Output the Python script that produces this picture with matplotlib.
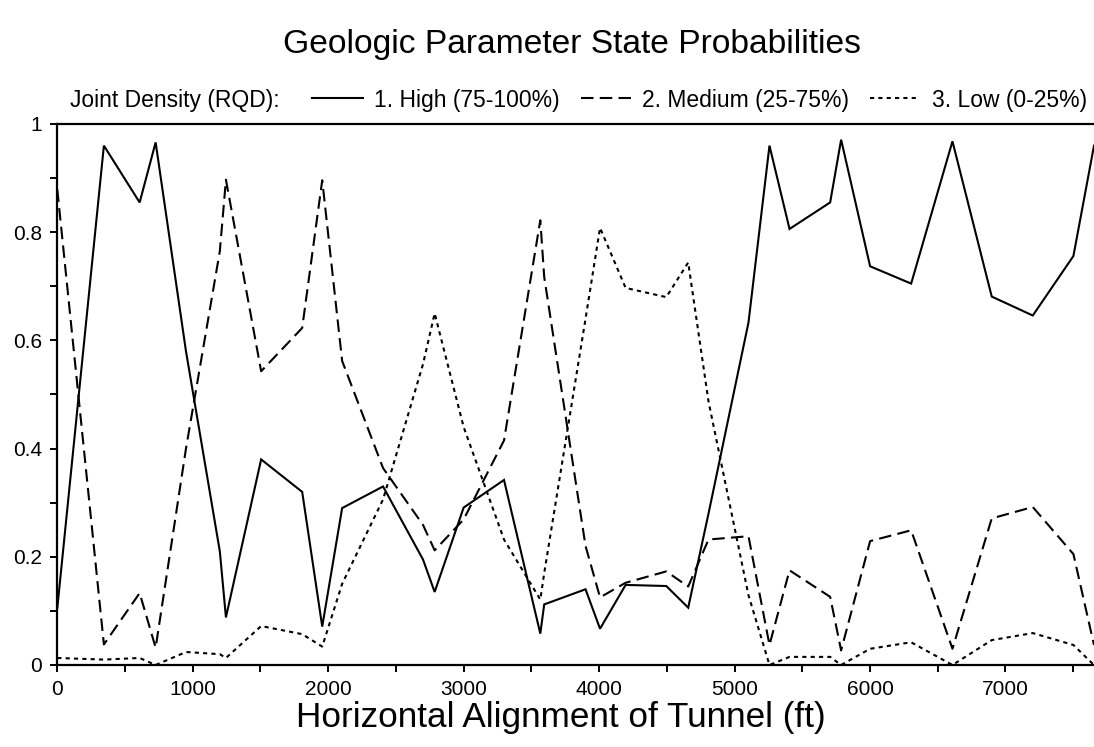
import matplotlib
matplotlib.use("Agg")
import matplotlib.pyplot as plt
from matplotlib.ticker import MultipleLocator, FuncFormatter

plt.rcParams['font.family'] = ['Liberation Sans', 'DejaVu Sans']

# ---- data ----
distance_ft = [0, 344, 608, 726, 950, 1200, 1245, 1505, 1808, 1956, 2103, 2405,
               2700, 2786, 3000, 3298, 3566, 3595, 3900, 4007, 4196, 4496, 4658,
               4808, 5103, 5258, 5406, 5706, 5787, 6001, 6304, 6609, 6899, 7202,
               7502, 7654]
high = [0.105, 0.960, 0.855, 0.966, 0.58, 0.21, 0.088, 0.380, 0.320, 0.071, 0.290,
        0.330, 0.195, 0.135, 0.291, 0.342, 0.058, 0.112, 0.140, 0.067, 0.148,
        0.146, 0.106, 0.28, 0.633, 0.960, 0.806, 0.855, 0.971, 0.737, 0.705,
        0.968, 0.681, 0.646, 0.756, 0.960]
medium = [0.879, 0.038, 0.133, 0.032, 0.40, 0.765, 0.897, 0.543, 0.623, 0.896,
          0.562, 0.364, 0.259, 0.212, 0.269, 0.415, 0.822, 0.717, 0.22, 0.125,
          0.152, 0.173, 0.145, 0.232, 0.238, 0.037, 0.175, 0.126, 0.027, 0.229,
          0.249, 0.030, 0.271, 0.292, 0.205, 0.037]
low = [0.013, 0.010, 0.013, 0.0, 0.024, 0.02, 0.013, 0.072, 0.057, 0.034, 0.150,
       0.306, 0.556, 0.650, 0.44, 0.232, 0.121, 0.17, 0.64, 0.808, 0.697, 0.680,
       0.744, 0.487, 0.129, 0.0, 0.015, 0.015, 0.0, 0.030, 0.042, 0.0, 0.046,
       0.059, 0.037, 0.0]
series_labels = ["1. High (75-100%)", "2. Medium (25-75%)", "3. Low (0-25%)"]
legend_title = "Joint Density (RQD):"
title = "Geologic Parameter State Probabilities"
xlabel = "Horizontal Alignment of Tunnel (ft)"

W, H = 1094, 747
fig = plt.figure(figsize=(W / 100, H / 100), dpi=100)
ax = fig.add_axes([57.3 / W, (H - 665) / H, 1 - 57.3 / W, (665 - 124) / H])

lw = 1.5
l1, = ax.plot(distance_ft, high, color='black', lw=lw, solid_joinstyle='miter')
l2, = ax.plot(distance_ft, medium, color='black', lw=lw, dashes=(6, 3))
l3, = ax.plot(distance_ft, low, color='black', lw=lw, dashes=(2, 2))

ax.set_xlim(0, 7654)
ax.set_ylim(0, 1)
ax.xaxis.set_major_locator(MultipleLocator(1000))
ax.xaxis.set_minor_locator(MultipleLocator(500))
ax.yaxis.set_major_locator(MultipleLocator(0.2))
ax.yaxis.set_minor_locator(MultipleLocator(0.1))
ax.yaxis.set_major_formatter(FuncFormatter(lambda v, p: f"{v:g}"))

for s in ['left', 'top', 'bottom']:
    ax.spines[s].set_linewidth(1.6)
ax.spines['right'].set_visible(False)
ax.tick_params(which='both', direction='out', length=5, width=1.4, labelsize=15,
               pad=6, colors='black')

fig.text(561 / W, (H - 718) / H, xlabel, ha='center', va='center', fontsize=25.3)
fig.text(572 / W, (H - 45) / H, title, ha='center', va='center', fontsize=24.2)

fig.text(70 / W, (H - 100) / H, legend_title, ha='left', va='center', fontsize=16.5)
leg = fig.legend([l1, l2, l3], series_labels, loc='center right',
                 bbox_to_anchor=(1087 / W, (H - 100) / H), ncol=3, frameon=False,
                 fontsize=16.5, handlelength=2.2, handletextpad=0.5,
                 columnspacing=0.9, borderaxespad=0, borderpad=0)

fig.savefig("out.png", dpi=100)
